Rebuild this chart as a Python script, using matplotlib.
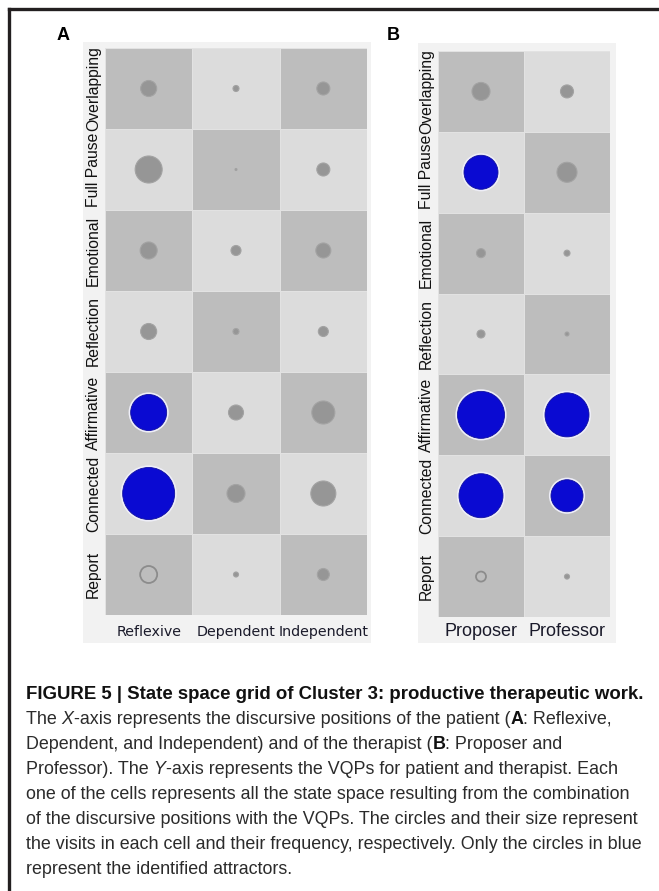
import numpy as np
import matplotlib
matplotlib.use("Agg")
import matplotlib.pyplot as plt
from matplotlib.colors import ListedColormap
from matplotlib.patches import Rectangle
from matplotlib.lines import Line2D

W, H = 659, 891

# VQP rows (top to bottom) shared by both grids
rows = ["Overlapping", "Full Pause", "Emotional", "Reflection",
        "Affirmative", "Connected", "Report"]

# panel A: patient positions
cols_a = ["Reflexive", "Dependent", "Independent"]
freq_a = [[16, 6, 13],
          [27, 2, 13],
          [17, 10, 15],
          [16, 6, 10],
          [36, 15, 23],
          [52, 18, 25],
          [17, 5, 12]]
attr_a = [[0, 0, 0], [0, 0, 0], [0, 0, 0], [0, 0, 0],
          [1, 0, 0], [1, 0, 0], [0, 0, 0]]
hollow_a = ("Report", "Reflexive")

# panel B: therapist positions
cols_b = ["Proposer", "Professor"]
freq_b = [[18, 13],
          [34, 20],
          [9, 6],
          [8, 4],
          [47, 44],
          [44, 32],
          [10, 5]]
attr_b = [[0, 0], [1, 0], [0, 0], [0, 0],
          [1, 1], [1, 1], [0, 0]]
hollow_b = ("Report", "Proposer")

fig = plt.figure(figsize=(W / 100, H / 100), dpi=100)
fig.patch.set_facecolor("white")


def px_box(x0, y0, x1, y1):
    return [x0 / W, 1 - y1 / H, (x1 - x0) / W, (y1 - y0) / H]


# outer frame (only top and left edges visible)
fig.add_artist(Line2D([8.5 / W, 8.5 / W], [1 - 8.5 / H, 0], color="#231f20",
                      lw=2.4, transform=fig.transFigure))
fig.add_artist(Line2D([8.5 / W, 1], [1 - 8.5 / H, 1 - 8.5 / H], color="#231f20",
                      lw=2.4, transform=fig.transFigure))

# light panel backgrounds
for (x0, y0, x1, y1) in [(83, 42, 371, 643), (418, 43, 616, 643)]:
    b = px_box(x0, y0, x1, y1)
    fig.add_artist(Rectangle((b[0], b[1]), b[2], b[3], transform=fig.transFigure,
                             facecolor="#f2f2f2", edgecolor="none", zorder=0))

cmap = ListedColormap(["#bdbdbd", "#dcdcdc"])


def grid(box, cols, freq, attr, hollow, xfs, xfont, xpad):
    ax = fig.add_axes(px_box(*box))
    nr, nc = len(rows), len(cols)
    chk = np.array([[(r + c) % 2 for c in range(nc)] for r in range(nr)])
    ax.pcolormesh(np.arange(nc + 1) - 0.5, np.arange(nr + 1) - 0.5, chk,
                  cmap=cmap, vmin=0, vmax=1, edgecolors="#e2e2e2", linewidth=0.5)
    f = np.array(freq, dtype=float)
    a = np.array(attr, dtype=bool)
    yy, xx = np.mgrid[0:nr, 0:nc]
    hr, hc = rows.index(hollow[0]), cols.index(hollow[1])
    hol = np.zeros_like(a)
    hol[hr, hc] = True
    s = (0.72 * f) ** 2
    g = ~a & ~hol
    ax.scatter(xx[g], yy[g], s=s[g], c="#969696", edgecolors="#a3a3a3",
               linewidths=0.8, zorder=3)
    ax.scatter(xx[hol], yy[hol], s=s[hol], facecolors="none",
               edgecolors="#8c8c8c", linewidths=1.3, zorder=3)
    ax.scatter(xx[a], yy[a], s=(0.72 * f[a] + 3) ** 2, c="#eeeef8",
               edgecolors="none", zorder=3)
    ax.scatter(xx[a], yy[a], s=s[a], c="#0a0ad2", edgecolors="#1010a0",
               linewidths=0.6, zorder=4)
    ax.set_xlim(-0.5, nc - 0.5)
    ax.set_ylim(nr - 0.5, -0.5)
    ax.set_yticks(range(nr))
    ax.set_yticklabels(rows, rotation=90, va="center", fontsize=11.3,
                       family="Liberation Sans", color="#111111")
    ax.set_xticks(range(nc))
    ax.set_xticklabels(cols, fontsize=xfs, family=xfont, color="#1a1a2a")
    ax.tick_params(axis="y", length=0, pad=3)
    ax.tick_params(axis="x", length=0, pad=xpad)
    for sp in ax.spines.values():
        sp.set_visible(False)
    return ax


grid((105, 48, 367, 615), cols_a, freq_a, attr_a, hollow_a, 10.3, "DejaVu Sans", 7)
grid((438, 51, 610, 617), cols_b, freq_b, attr_b, hollow_b, 13, "Liberation Sans", 4.5)

fig.text(63 / W, 1 - 36 / H, "A", fontsize=13, fontweight="bold",
         family="Liberation Sans", ha="center", va="center")
fig.text(393 / W, 1 - 36 / H, "B", fontsize=13, fontweight="bold",
         family="Liberation Sans", ha="center", va="center")

# caption, drawn piece by piece so bold / italic parts can sit inline
caption = [
    [("FIGURE 5 | State space grid of Cluster 3: productive therapeutic work.", "bold")],
    [("The ", "n"), ("X", "i"), ("-axis represents the discursive positions of the patient (", "n"),
     ("A", "b"), (": Reflexive,", "n")],
    [("Dependent, and Independent) and of the therapist (", "n"), ("B", "b"),
     (": Proposer and", "n")],
    [("Professor). The ", "n"), ("Y", "i"),
     ("-axis represents the VQPs for patient and therapist. Each", "n")],
    [("one of the cells represents all the state space resulting from the combination", "n")],
    [("of the discursive positions with the VQPs. The circles and their size represent", "n")],
    [("the visits in each cell and their frequency, respectively. Only the circles in blue", "n")],
    [("represent the identified attractors.", "n")],
]
renderer = fig.canvas.get_renderer()
y0, dy = 699, 25
for i, line in enumerate(caption):
    x = 26
    for txt, sty in line:
        kw = dict(fontsize=12.9, family="Liberation Sans", va="baseline", ha="left",
                  color="#2b2b2b")
        if sty == "bold":
            kw.update(fontweight="bold", color="#111111", fontsize=13.4)
        if sty == "b":
            kw.update(fontweight="bold", color="#111111")
        if sty == "i":
            kw.update(style="italic")
        t = fig.text(x / W, 1 - (y0 + i * dy) / H, txt, **kw)
        x += t.get_window_extent(renderer).width

fig.savefig("out.png", dpi=100)
